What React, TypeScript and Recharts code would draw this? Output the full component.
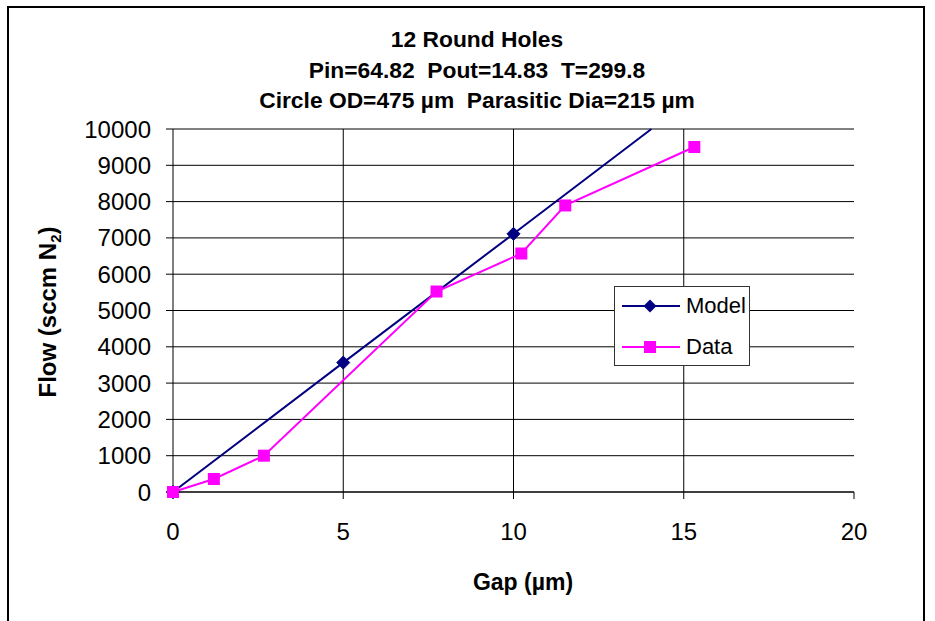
import React from 'react'
import { LineChart, Line, XAxis, YAxis, CartesianGrid, ReferenceLine, Legend } from 'recharts'

const FONT = '"Liberation Sans", Arial, sans-serif'

const titleLines = [
    '12 Round Holes',
    'Pin=64.82  Pout=14.83  T=299.8',
    'Circle OD=475 µm  Parasitic Dia=215 µm',
]

// values
const modelGap = [0, 5, 10, 14.05]
const modelFlow = [0, 3565, 7113, 10000]
const dataGap = [0, 1.2, 2.67, 7.74, 10.23, 11.52, 15.31]
const dataFlow = [0, 358, 1000, 5523, 6570, 7894, 9504]

const xTicks = [0, 5, 10, 15, 20]
const yTicks = [0, 1000, 2000, 3000, 4000, 5000, 6000, 7000, 8000, 9000, 10000]
const xGrid = [5, 10, 15]

const modelData = modelGap.map((x, i) => ({ x, y: modelFlow[i] }))
const flowData = dataGap.map((x, i) => ({ x, y: dataFlow[i] }))

const NAVY = '#000080'
const MAGENTA = '#FF00FF'

const Diamond = (props: any) => {
    const { cx, cy, index } = props
    // last point only carries the line to the top of the plot, no marker
    if (index === modelData.length - 1 || cx == null) return <g />
    const s = 6.5
    return (
        <polygon
            points={`${cx},${cy - s} ${cx + s},${cy} ${cx},${cy + s} ${cx - s},${cy}`}
            fill={NAVY}
            stroke={NAVY}
        />
    )
}

const Square = (props: any) => {
    const { cx, cy } = props
    if (cx == null) return <g />
    return <rect x={cx - 6} y={cy - 6} width={12} height={12} fill={MAGENTA} />
}

const LegendBox = () => (
    <div
        style={{
            width: 134,
            height: 78,
            border: '1px solid #333',
            background: '#fff',
            position: 'relative',
            fontFamily: FONT,
            fontSize: 22,
            color: '#000',
        }}
    >
        <svg width={70} height={78} style={{ position: 'absolute', left: 0, top: 0 }}>
            <line x1={7} y1={19} x2={65} y2={19} stroke={NAVY} strokeWidth={2} />
            <polygon points="35,12.5 41.5,19 35,25.5 28.5,19" fill={NAVY} />
            <line x1={7} y1={60} x2={65} y2={60} stroke={MAGENTA} strokeWidth={2} />
            <rect x={29} y={54} width={12} height={12} fill={MAGENTA} />
        </svg>
        <div style={{ position: 'absolute', left: 71, top: 4, lineHeight: '30px' }}>Model</div>
        <div style={{ position: 'absolute', left: 71, top: 45, lineHeight: '30px' }}>Data</div>
    </div>
)

export default function App() {
    const tickStyle = { fontSize: 24, fontFamily: FONT, fill: '#000' }
    return (
        <div
            style={{
                position: 'absolute',
                left: 0,
                top: 0,
                width: 935,
                height: 621,
                overflow: 'hidden',
                background: '#fff',
            }}
        >
            <div
                style={{
                    position: 'absolute',
                    left: 7,
                    top: 6,
                    width: 914,
                    height: 700,
                    border: '2px solid #000',
                }}
            />
            <LineChart
                width={935}
                height={621}
                margin={{ top: 129, right: 81, bottom: 69, left: 83 }}
            >
                <CartesianGrid horizontal vertical={false} stroke="#000" strokeWidth={1} />
                {xGrid.map((g) => (
                    <ReferenceLine key={g} x={g} stroke="#000" strokeWidth={1} />
                ))}
                <XAxis
                    dataKey="x"
                    type="number"
                    domain={[0, 20]}
                    ticks={xTicks}
                    height={60}
                    stroke="#000"
                    tickSize={7}
                    tickMargin={24}
                    tick={tickStyle}
                    axisLine={{ stroke: '#000' }}
                    tickLine={{ stroke: '#000' }}
                />
                <YAxis
                    dataKey="y"
                    type="number"
                    domain={[0, 10000]}
                    ticks={yTicks}
                    width={90}
                    stroke="#000"
                    tickSize={7}
                    tickMargin={15}
                    tick={tickStyle}
                    axisLine={{ stroke: '#000' }}
                    tickLine={{ stroke: '#000' }}
                />
                <Legend
                    layout="vertical"
                    align="center"
                    verticalAlign="middle"
                    wrapperStyle={{ left: 614, top: 286, width: 136, height: 80 }}
                    content={() => <LegendBox />}
                />
                <Line
                    data={modelData}
                    dataKey="y"
                    name="Model"
                    stroke={NAVY}
                    strokeWidth={2}
                    dot={Diamond}
                    activeDot={false}
                    isAnimationActive={false}
                />
                <Line
                    data={flowData}
                    dataKey="y"
                    name="Data"
                    stroke={MAGENTA}
                    strokeWidth={2}
                    dot={Square}
                    activeDot={false}
                    isAnimationActive={false}
                />
            </LineChart>

            <div
                style={{
                    position: 'absolute',
                    left: 0,
                    width: 954,
                    top: 24,
                    textAlign: 'center',
                    fontFamily: FONT,
                    fontWeight: 'bold',
                    fontSize: 22.8,
                    lineHeight: '30.5px',
                    whiteSpace: 'pre',
                    color: '#000',
                }}
            >
                {titleLines.map((t) => (
                    <div key={t}>{t}</div>
                ))}
            </div>

            <div
                style={{
                    position: 'absolute',
                    left: 49,
                    top: 312,
                    transform: 'translate(-50%, -50%) rotate(-90deg)',
                    fontFamily: FONT,
                    fontWeight: 'bold',
                    fontSize: 24,
                    whiteSpace: 'nowrap',
                    color: '#000',
                }}
            >
                Flow (sccm N<sub style={{ fontSize: 15 }}>2</sub>)
            </div>

            <div
                style={{
                    position: 'absolute',
                    left: 523,
                    top: 582,
                    transform: 'translate(-50%, -50%)',
                    fontFamily: FONT,
                    fontWeight: 'bold',
                    fontSize: 23,
                    whiteSpace: 'nowrap',
                    color: '#000',
                }}
            >
                Gap (µm)
            </div>
        </div>
    )
}
